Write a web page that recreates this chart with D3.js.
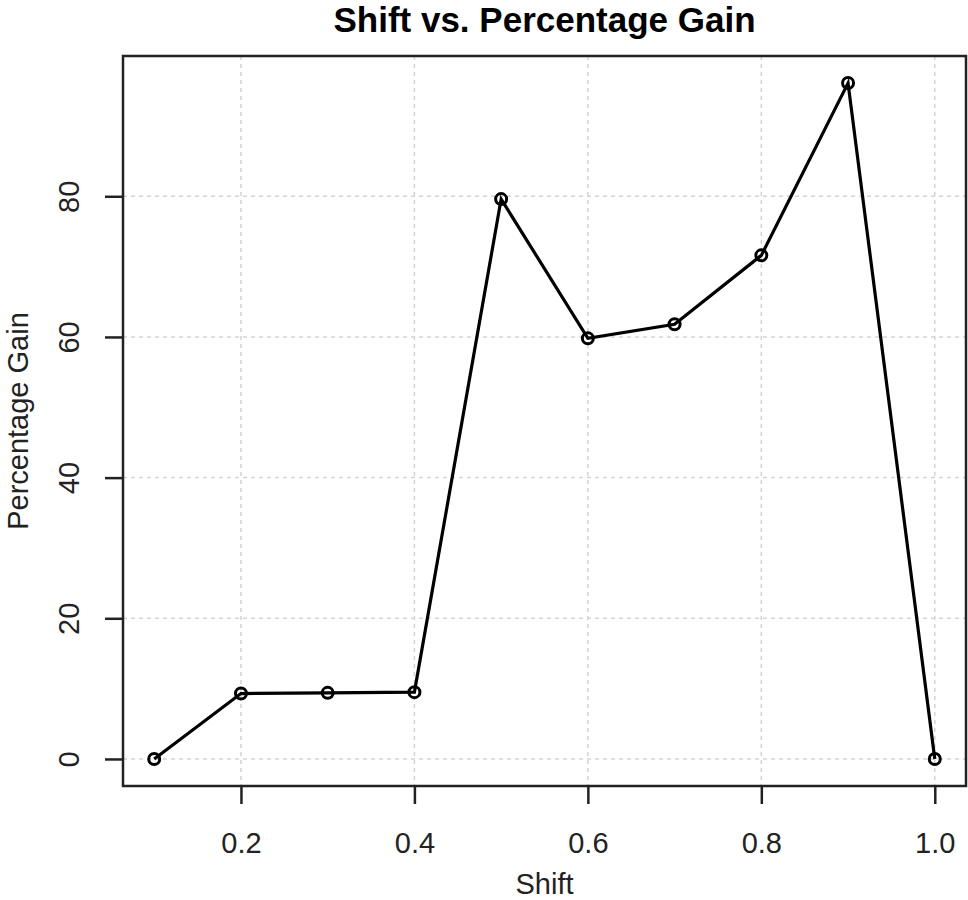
<!DOCTYPE html>
<html>
<head>
<meta charset="utf-8">
<script src="https://cdn.jsdelivr.net/npm/d3@7"></script>
<style>
  body { margin: 0; background: #fff; }
  text { font-family: "Liberation Sans", Arial, sans-serif; }
</style>
</head>
<body>
<div id="my_dataviz"></div>
<script>
// data
const shift = [0.1, 0.2, 0.3, 0.4, 0.5, 0.6, 0.7, 0.8, 0.9, 1.0];
const gain = [0, 9.3, 9.4, 9.5, 79.6, 59.8, 61.8, 71.6, 96.1, 0];
const xTicks = [0.2, 0.4, 0.6, 0.8, 1.0];
const yTicks = [0, 20, 40, 60, 80];

const data = shift.map((s, i) => ({ shift: s, gain: gain[i] }));

// set the dimensions and margins of the graph
const margin = {top: 56, right: 2, bottom: 114, left: 123},
  width = 968 - margin.left - margin.right,
  height = 900 - margin.top - margin.bottom;

const svg = d3.select("#my_dataviz")
  .append("svg")
  .attr("width", width + margin.left + margin.right)
  .attr("height", height + margin.top + margin.bottom);

const g = svg.append("g")
  .attr("transform", `translate(${margin.left}, ${margin.top})`);

// R style 4% padding on the data range
function padded(ext) {
  const p = (ext[1] - ext[0]) * 0.04;
  return [ext[0] - p, ext[1] + p];
}

const x = d3.scaleLinear()
  .domain(padded(d3.extent(shift)))
  .range([0, width]);

const y = d3.scaleLinear()
  .domain(padded(d3.extent(gain)))
  .range([height, 0]);

// grid
g.append("g")
  .selectAll("line")
  .data(xTicks)
  .join("line")
    .attr("x1", d => x(d)).attr("x2", d => x(d))
    .attr("y1", 0).attr("y2", height)
    .attr("stroke", "#d3d3d3")
    .attr("stroke-width", 1.5)
    .attr("stroke-dasharray", "4,4");

g.append("g")
  .selectAll("line")
  .data(yTicks)
  .join("line")
    .attr("x1", 0).attr("x2", width)
    .attr("y1", d => y(d)).attr("y2", d => y(d))
    .attr("stroke", "#d3d3d3")
    .attr("stroke-width", 1.5)
    .attr("stroke-dasharray", "4,4");

// X axis
const xAxis = g.append("g")
  .attr("transform", `translate(0, ${height})`)
  .call(d3.axisBottom(x).tickValues(xTicks).tickFormat(d3.format(".1f")).tickSize(18).tickPadding(28));
xAxis.select(".domain").remove();
xAxis.selectAll(".tick line").attr("stroke", "#222").attr("stroke-width", 2.5);
xAxis.selectAll(".tick text")
  .attr("fill", "#222")
  .style("font-size", "29px");

// Y axis
const yAxis = g.append("g")
  .call(d3.axisLeft(y).tickValues(yTicks).tickSize(18).tickPadding(0));
yAxis.select(".domain").remove();
yAxis.selectAll(".tick line").attr("stroke", "#222").attr("stroke-width", 2.5);
yAxis.selectAll(".tick text")
  .attr("fill", "#222")
  .style("font-size", "29px")
  .attr("x", null).attr("dy", null)
  .attr("text-anchor", "middle")
  .attr("transform", "translate(-44,0) rotate(-90)");

// box
g.append("rect")
  .attr("width", width)
  .attr("height", height)
  .attr("fill", "none")
  .attr("stroke", "#222")
  .attr("stroke-width", 2.5);

// line
const line = d3.line()
  .x(d => x(d.shift))
  .y(d => y(d.gain));

g.append("path")
  .datum(data)
  .attr("fill", "none")
  .attr("stroke", "#000")
  .attr("stroke-width", 3.2)
  .attr("d", line);

g.selectAll("circle")
  .data(data)
  .join("circle")
    .attr("cx", d => x(d.shift))
    .attr("cy", d => y(d.gain))
    .attr("r", 5.5)
    .attr("fill", "none")
    .attr("stroke", "#000")
    .attr("stroke-width", 3);

// titles
svg.append("text")
  .attr("x", margin.left + width / 2)
  .attr("y", 32)
  .attr("text-anchor", "middle")
  .style("font-size", "35px")
  .style("font-weight", "bold")
  .attr("fill", "#000")
  .text("Shift vs. Percentage Gain");

svg.append("text")
  .attr("x", margin.left + width / 2)
  .attr("y", 894)
  .attr("text-anchor", "middle")
  .style("font-size", "29px")
  .attr("fill", "#222")
  .text("Shift");

svg.append("text")
  .attr("transform", `translate(28, ${margin.top + height / 2}) rotate(-90)`)
  .attr("text-anchor", "middle")
  .style("font-size", "29px")
  .attr("fill", "#222")
  .text("Percentage Gain");
</script>
</body>
</html>
